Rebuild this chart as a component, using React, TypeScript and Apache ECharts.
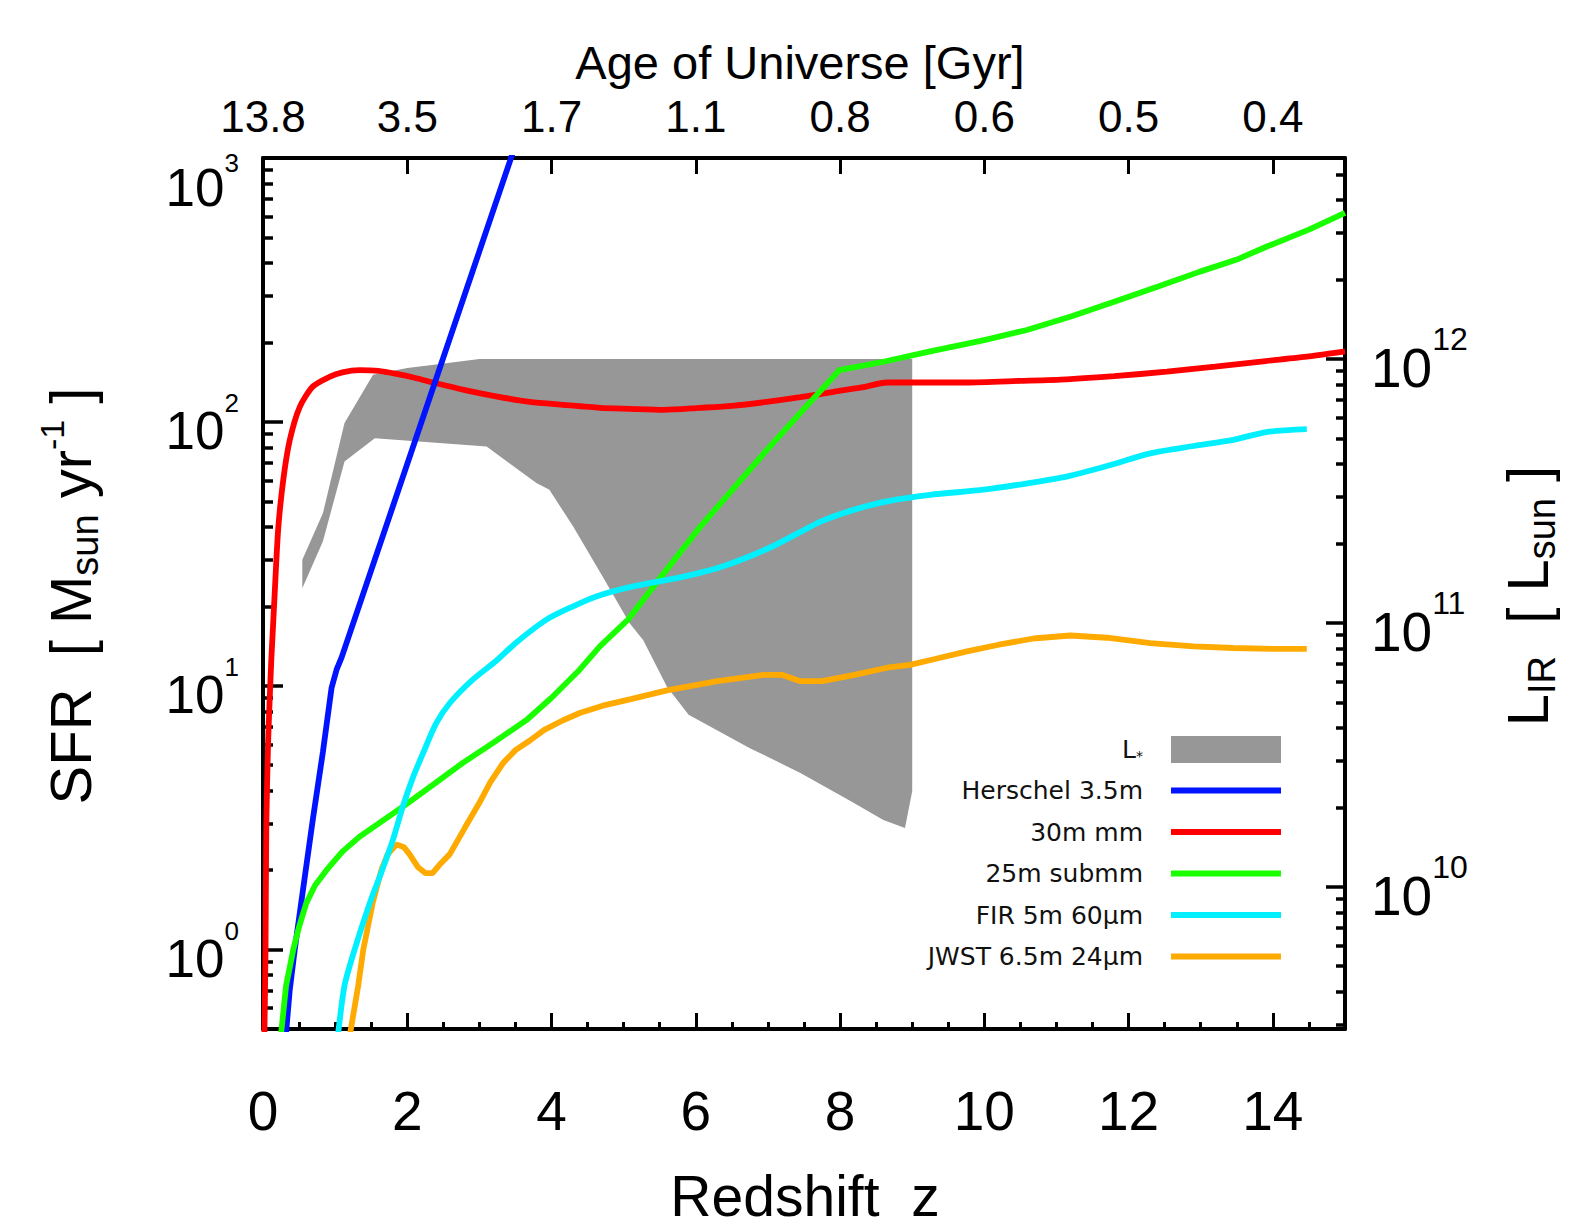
import React, { useEffect, useRef } from 'react';
import * as echarts from 'echarts';

const FONT = '"Liberation Sans", Arial, Helvetica, sans-serif';
const LEGEND_FONT = '"DejaVu Sans", "Liberation Sans", Arial, sans-serif';

// ---- axes ----
const redshiftTicks = [0, 2, 4, 6, 8, 10, 12, 14];
const ageOfUniverseLabels = ['13.8', '3.5', '1.7', '1.1', '0.8', '0.6', '0.5', '0.4'];
const SFR_MIN = 0.5;
const SFR_MAX = 1000;
const LIR_PER_SFR = 1 / 1.73e-10;
const sfrMinorTicks = [0.6, 0.7, 0.8, 0.9, 2, 3, 4, 5, 6, 7, 8, 9, 20, 30, 40, 50, 60, 70, 80, 90,
  200, 300, 400, 500, 600, 700, 800, 900];
const lirMinorTicks = [3e9, 4e9, 5e9, 6e9, 7e9, 8e9, 9e9, 2e10, 3e10, 4e10, 5e10, 6e10, 7e10, 8e10, 9e10,
  2e11, 3e11, 4e11, 5e11, 6e11, 7e11, 8e11, 9e11, 2e12, 3e12, 4e12, 5e12];

// ---- data: [redshift z, SFR (Msun/yr)] ----
const herschel = [[0.31, 0.45], [0.37, 0.7], [0.44, 1.0], [0.55, 1.65], [0.69, 3.1], [0.83, 5.6],
  [0.95, 9.8], [1.02, 11.5], [1.09, 12.8], [3.6, 1350]];
const mm30 = [[0.018, 0.45], [0.035, 1.0], [0.046, 3.0], [0.07, 6.0], [0.09, 8.5], [0.115, 12.5],
  [0.14, 17], [0.16, 21.8], [0.21, 39], [0.28, 60], [0.37, 85], [0.51, 114], [0.69, 136], [0.92, 148],
  [1.1, 154], [1.34, 157], [1.6, 156], [1.85, 152], [2.1, 147], [2.4, 140], [2.8, 132], [3.23, 125],
  [3.7, 119], [4.16, 116], [4.67, 113], [5.08, 112], [5.55, 111], [6.06, 113], [6.5, 115], [6.98, 119],
  [7.45, 124], [7.91, 130], [8.3, 135], [8.65, 141], [9.25, 141], [9.75, 141], [10.5, 143], [11.14, 145],
  [11.8, 149], [12.53, 155], [13.2, 162], [13.9, 170], [14.5, 177], [15.0, 185]];
const submm25 = [[0.24, 0.45], [0.32, 0.73], [0.42, 1.0], [0.5, 1.22], [0.6, 1.5], [0.72, 1.75],
  [0.88, 2.0], [1.1, 2.35], [1.34, 2.68], [1.6, 3.0], [1.94, 3.48], [2.35, 4.2], [2.77, 5.1], [3.2, 6.1],
  [3.65, 7.4], [4.0, 9.0], [4.39, 11.5], [4.67, 14.1], [5.06, 17.8], [5.5, 25.5], [6.06, 40], [6.5, 55],
  [6.98, 78], [7.5, 112], [7.99, 157], [8.6, 169], [9.25, 185], [10.0, 204], [10.59, 223], [11.2, 251],
  [11.8, 285], [12.4, 325], [12.99, 371], [13.5, 412], [13.91, 461], [14.5, 535], [15.0, 620]];
const fir5m = [[1.03, 0.45], [1.13, 0.73], [1.27, 1.0], [1.48, 1.5], [1.64, 1.96], [1.8, 2.6],
  [1.94, 3.5], [2.08, 4.5], [2.22, 5.56], [2.4, 7.2], [2.59, 8.6], [2.9, 10.5], [3.23, 12.4], [3.5, 14.5],
  [3.93, 17.8], [4.3, 20], [4.62, 21.8], [5.13, 23.8], [5.8, 25.8], [6.37, 28.3], [7.06, 33.7],
  [7.73, 41.9], [8.2, 46.5], [8.65, 50], [9.25, 52.9], [9.99, 55.3], [10.6, 58.5], [11.14, 62],
  [11.7, 68], [12.3, 76], [12.9, 81], [13.45, 85.5], [13.91, 91.5], [14.47, 93.8]];
const jwst = [[1.19, 0.45], [1.32, 0.73], [1.39, 1.0], [1.52, 1.5], [1.64, 2.0], [1.73, 2.3],
  [1.85, 2.5], [1.95, 2.45], [2.03, 2.3], [2.15, 2.05], [2.25, 1.95], [2.35, 1.95], [2.45, 2.1],
  [2.59, 2.3], [2.8, 2.9], [3.0, 3.6], [3.15, 4.3], [3.33, 5.1], [3.5, 5.7], [3.7, 6.2], [3.9, 6.8],
  [4.16, 7.4], [4.4, 7.9], [4.71, 8.4], [5.1, 8.9], [5.6, 9.6], [6.3, 10.4], [6.94, 11.0], [7.19, 11.0],
  [7.45, 10.4], [7.75, 10.4], [8.2, 11.0], [8.65, 11.7], [8.97, 12.0], [9.3, 12.6], [9.76, 13.5],
  [10.2, 14.3], [10.68, 15.1], [11.19, 15.5], [11.7, 15.2], [12.3, 14.5], [12.9, 14.1], [13.45, 13.9],
  [14.0, 13.8], [14.47, 13.8]];
// L* band: upper edge (left to right) and lower edge (left to right)
const lstarUpper = [[0.545, 30], [0.83, 45], [1.13, 99], [1.525, 151], [2.0, 160], [2.4, 165],
  [3.0, 173], [9.0, 173], [9.0, 3.98]];
const lstarLower = [[0.545, 23.4], [0.83, 35.2], [1.13, 70.7], [1.55, 86.7], [3.1, 80.6], [3.79, 58.6],
  [3.97, 55.3], [4.3, 40.1], [4.71, 25.9], [5.08, 17.3], [5.27, 14.9], [5.6, 9.9], [5.9, 7.77],
  [6.75, 5.8], [7.45, 4.67], [8.15, 3.65], [8.6, 3.1], [8.9, 2.89]];

const lineNames = ['Herschel 3.5m', '30m mm', '25m submm', 'FIR 5m 60\u03bcm', 'JWST 6.5m 24\u03bcm'];

const powLabel = (v: number, top: boolean) => {
  const e = Math.log10(v);
  if (Math.abs(e - Math.round(e)) > 1e-6) return '';
  const r = Math.round(e);
  return top ? `{bt|10}{st|${r}}` : `{b|10}{s|${r}}`;
};

export default function App() {
  const ref = useRef<HTMLDivElement>(null);
  useEffect(() => {
    if (!ref.current) return;
    const chart = echarts.init(ref.current, null, { renderer: 'svg' });
    const bandPoly = lstarUpper.concat(lstarLower.slice().reverse());
    const lineSeries = (name: string, data: number[][], color: string, smooth: number | boolean) => ({
      type: 'line', name, data, xAxisIndex: 0, yAxisIndex: 0, symbol: 'none', showSymbol: false,
      smooth,
      clip: true, color, lineStyle: { color, width: 5.8 }, itemStyle: { color }, z: 3, silent: true,
    });
    const axisLineStyle = { show: true, onZero: false, lineStyle: { color: '#000', width: 4 } };
    const option: any = {
      animation: false,
      backgroundColor: '#fff',
      textStyle: { fontFamily: FONT },
      grid: { left: 263, right: 232, top: 158, bottom: 203, containLabel: false, outerBoundsMode: 'none' },
      xAxis: [
        {
          type: 'value', position: 'bottom', min: 0, max: 15, interval: 2,
          axisLine: axisLineStyle,
          axisTick: { show: true, inside: true, length: 16, lineStyle: { color: '#000', width: 3 } },
          axisLabel: { show: true, showMaxLabel: false, fontSize: 55, color: '#000', margin: 54, fontFamily: FONT },
          splitLine: { show: false },
        },
        {
          type: 'value', position: 'bottom', min: 0, max: 15, interval: 0.5,
          axisLine: { show: false, onZero: false },
          axisTick: { show: true, inside: true, length: 7, lineStyle: { color: '#000', width: 3 } },
          axisLabel: { show: false },
          splitLine: { show: false },
        },
        {
          type: 'value', position: 'top', min: 0, max: 15, interval: 2,
          axisLine: axisLineStyle,
          axisTick: { show: true, inside: true, length: 16, lineStyle: { color: '#000', width: 3 } },
          axisLabel: {
            show: true, showMaxLabel: false, fontSize: 44, color: '#000', margin: 20, fontFamily: FONT,
            formatter: (v: number) => {
              const i = redshiftTicks.indexOf(v);
              return i >= 0 ? ageOfUniverseLabels[i] : '';
            },
          },
          splitLine: { show: false },
        },
      ],
      yAxis: [
        {
          type: 'log', logBase: 10, position: 'left', min: SFR_MIN, max: SFR_MAX,
          axisLine: axisLineStyle,
          axisTick: { show: true, inside: true, length: 20, lineStyle: { color: '#000', width: 3.5 } },
          axisLabel: {
            show: true, margin: 24, color: '#000', fontFamily: FONT,
            formatter: (v: number) => powLabel(v, v >= SFR_MAX * 0.999),
            rich: {
              b: { fontSize: 53, fontFamily: FONT, color: '#000', padding: [18, 0, 0, 0] },
              s: { fontSize: 26, fontFamily: FONT, color: '#000', padding: [0, 0, 38, 0] },
              bt: { fontSize: 53, fontFamily: FONT, color: '#000', padding: [58, 0, 0, 0] },
              st: { fontSize: 26, fontFamily: FONT, color: '#000', padding: [9, 0, 0, 0] },
            },
          },
          splitLine: { show: false },
        },
        {
          type: 'log', logBase: 10, position: 'left', min: SFR_MIN, max: SFR_MAX,
          axisLine: { show: false, onZero: false },
          axisTick: { show: true, inside: true, length: 10, customValues: sfrMinorTicks, lineStyle: { color: '#000', width: 3.5 } },
          axisLabel: { show: false },
          splitLine: { show: false },
        },
        {
          type: 'log', logBase: 10, position: 'right', min: SFR_MIN * LIR_PER_SFR, max: SFR_MAX * LIR_PER_SFR,
          axisLine: axisLineStyle,
          axisTick: { show: true, inside: true, length: 19, lineStyle: { color: '#000', width: 3.5 } },
          axisLabel: {
            show: true, margin: 26, color: '#000', fontFamily: FONT,
            formatter: (v: number) => powLabel(v, false),
            rich: {
              b: { fontSize: 55, fontFamily: FONT, color: '#000', padding: [18, 0, 0, 0] },
              s: { fontSize: 32, fontFamily: FONT, color: '#000', padding: [0, 0, 40, 0] },
            },
          },
          splitLine: { show: false },
        },
        {
          type: 'log', logBase: 10, position: 'right', min: SFR_MIN * LIR_PER_SFR, max: SFR_MAX * LIR_PER_SFR,
          axisLine: { show: false, onZero: false },
          axisTick: { show: true, inside: true, length: 9, customValues: lirMinorTicks, lineStyle: { color: '#000', width: 3.5 } },
          axisLabel: { show: false },
          splitLine: { show: false },
        },
      ],
      legend: [
        {
          data: [{ name: 'L*', icon: 'rect' }],
          orient: 'vertical', align: 'right', right: 296, top: 736, padding: 0,
          itemWidth: 110, itemHeight: 27, selectedMode: false,
          formatter: () => '{a|L}{s|*}',
          textStyle: {
            fontSize: 25, color: '#111', fontFamily: LEGEND_FONT, padding: [0, 23, 0, 0],
            rich: {
              a: { fontSize: 25, color: '#111', fontFamily: LEGEND_FONT },
              s: { fontSize: 14, color: '#111', fontFamily: LEGEND_FONT, padding: [12, 0, 0, 0] },
            },
          },
        },
        {
          data: lineNames.map((n) => ({ name: n, icon: 'rect' })),
          orient: 'vertical', align: 'right', right: 296, top: 778, padding: 0,
          itemWidth: 110, itemHeight: 6, itemGap: 16.5, selectedMode: false,
          textStyle: { fontSize: 25, color: '#111', fontFamily: LEGEND_FONT, padding: [0, 23, 0, 0] },
        },
      ],
      graphic: [
        {
          type: 'text', x: 800, y: 62, silent: true,
          style: { text: 'Age of Universe [Gyr]', fontSize: 47, fontFamily: FONT, fill: '#000', align: 'center', verticalAlign: 'middle' },
        },
        {
          type: 'text', x: 805, y: 1196, silent: true,
          style: { text: 'Redshift  z', fontSize: 57, fontFamily: FONT, fill: '#000', align: 'center', verticalAlign: 'middle' },
        },
        {
          type: 'text', x: 70, y: 596, rotation: Math.PI / 2, silent: true,
          style: {
            text: '{t|SFR  [ M}{sub|sun}{t| yr}{sup|-1}{t| ]}', fontFamily: FONT, fill: '#000',
            align: 'center', verticalAlign: 'middle',
            rich: {
              t: { fontSize: 58, fontFamily: FONT, fill: '#000' },
              sub: { fontSize: 38, fontFamily: FONT, fill: '#000', padding: [30, 0, 0, 0] },
              sup: { fontSize: 34, fontFamily: FONT, fill: '#000', padding: [0, 0, 36, 0] },
            },
          },
        },
        {
          type: 'text', x: 1527, y: 596, rotation: Math.PI / 2, silent: true,
          style: {
            text: '{t|L}{sub|IR}{t|  [ L}{sub|sun}{t| ]}', fontFamily: FONT, fill: '#000',
            align: 'center', verticalAlign: 'middle',
            rich: {
              t: { fontSize: 58, fontFamily: FONT, fill: '#000' },
              sub: { fontSize: 38, fontFamily: FONT, fill: '#000', padding: [30, 0, 0, 0] },
            },
          },
        },
      ],
      series: [
        {
          type: 'custom', name: 'L*', xAxisIndex: 0, yAxisIndex: 0, data: bandPoly,
          encode: { x: 0, y: 1 }, clip: true, z: 1, silent: true,
          itemStyle: { color: '#979797' },
          renderItem: (params: any, api: any) => {
            if (params.dataIndex !== 0) return null;
            const pts = bandPoly.map((p) => api.coord(p));
            return { type: 'polygon', shape: { points: pts }, style: { fill: '#979797' } };
          },
        },
        lineSeries('30m mm', mm30, '#ff0000', 0.25),
        lineSeries('Herschel 3.5m', herschel, '#0014ff', false),
        lineSeries('25m submm', submm25, '#1aff00', false),
        lineSeries('JWST 6.5m 24\u03bcm', jwst, '#ffaa00', false),
        lineSeries('FIR 5m 60\u03bcm', fir5m, '#00f0ff', 0.25),
      ],
    };
    chart.setOption(option);
    return () => chart.dispose();
  }, []);
  return (
    <div
      ref={ref}
      style={{ position: 'absolute', left: 0, top: 0, width: 1577, height: 1232, background: '#fff' }}
    />
  );
}
